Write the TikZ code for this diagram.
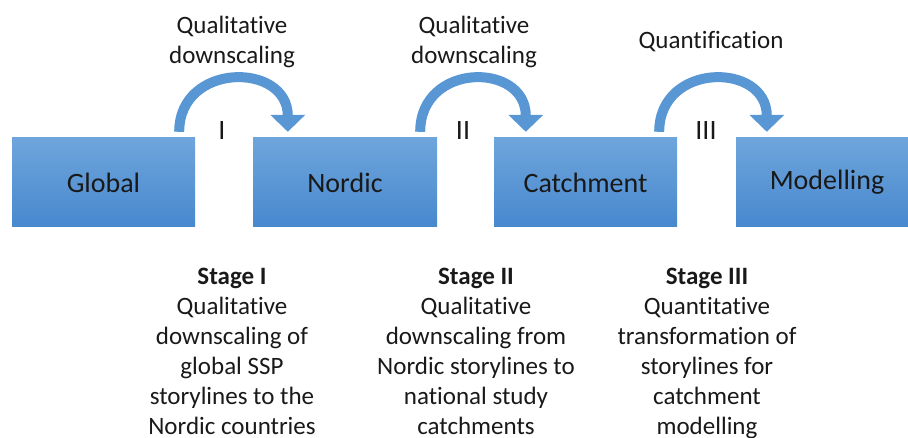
\documentclass[tikz,border=0pt]{standalone}
\usepackage{fontspec}
\setmainfont{Carlito}[Ligatures=NoCommon]
\usetikzlibrary{arrows.meta,calc}
\definecolor{boxtop}{RGB}{110,165,220}
\definecolor{boxbot}{RGB}{72,136,206}
\definecolor{arcblue}{RGB}{88,150,212}
\definecolor{txt}{RGB}{25,25,25}
\tikzset{
  box/.style={top color=boxtop, bottom color=boxbot, draw=none, minimum height=89pt,
    inner sep=0pt, font=\fontsize{28}{32}\selectfont, text=txt},
  arcarrow/.style={draw=arcblue, line width=10pt,
    -{Triangle[width=34pt,length=17pt]}},
  toplabel/.style={font=\fontsize{25}{30}\selectfont, text=txt, align=center, inner sep=0pt},
  roman/.style={font=\fontsize{28}{32}\selectfont, text=txt, inner sep=0pt},
  stagetext/.style={font=\fontsize{25}{30}\selectfont, text=txt, align=center, inner sep=0pt, anchor=north}
}
\begin{document}
\begin{tikzpicture}[x=1pt,y=-1pt]
\useasboundingbox (0,0) rectangle (908,438);
\node[box, minimum width=183pt] (global) at (103.5,182.5) {Global};
\node[box, minimum width=184pt] (nordic) at (345,182.5) {Nordic};
\node[box, minimum width=183pt] (catch) at (585.5,182.5) {Catchment};
\node[box, minimum width=172pt] (model) at (822,182.5) {\hspace*{10pt}Modelling};

\draw[arcarrow] ([xshift=-16pt,yshift=6pt]global.north east) .. controls +(0,-70) and +(0,-70) .. ([xshift=35pt,yshift=6pt]nordic.north west);
\draw[arcarrow] ([xshift=-17pt,yshift=6pt]nordic.north east) .. controls +(0,-70) and +(0,-70) .. ([xshift=32pt,yshift=6pt]catch.north west);
\draw[arcarrow] ([xshift=-18pt,yshift=6pt]catch.north east) .. controls +(0,-70) and +(0,-70) .. ([xshift=31pt,yshift=6pt]model.north west);

\node[roman] (r1) at (222,131) {I};
\node[roman] (r2) at (463,131) {II};
\node[roman] (r3) at (706,131) {III};

\node[toplabel] (t1) at (232,42) {Qualitative\\downscaling};
\node[toplabel] (t2) at (474,42) {Qualitative\\downscaling};
\node[toplabel] (t3) at (711,42) {Quantification};

\node[stagetext] (s1) at (232,268) {\textbf{Stage I}\\Qualitative\\downscaling of\\global SSP\\storylines to the\\Nordic countries};
\node[stagetext] (s2) at (476,268) {\textbf{Stage II}\\Qualitative\\downscaling from\\Nordic storylines to\\national study\\catchments};
\node[stagetext] (s3) at (707,268) {\textbf{Stage III}\\Quantitative\\transformation of\\storylines for\\catchment\\modelling};
\end{tikzpicture}
\end{document}
